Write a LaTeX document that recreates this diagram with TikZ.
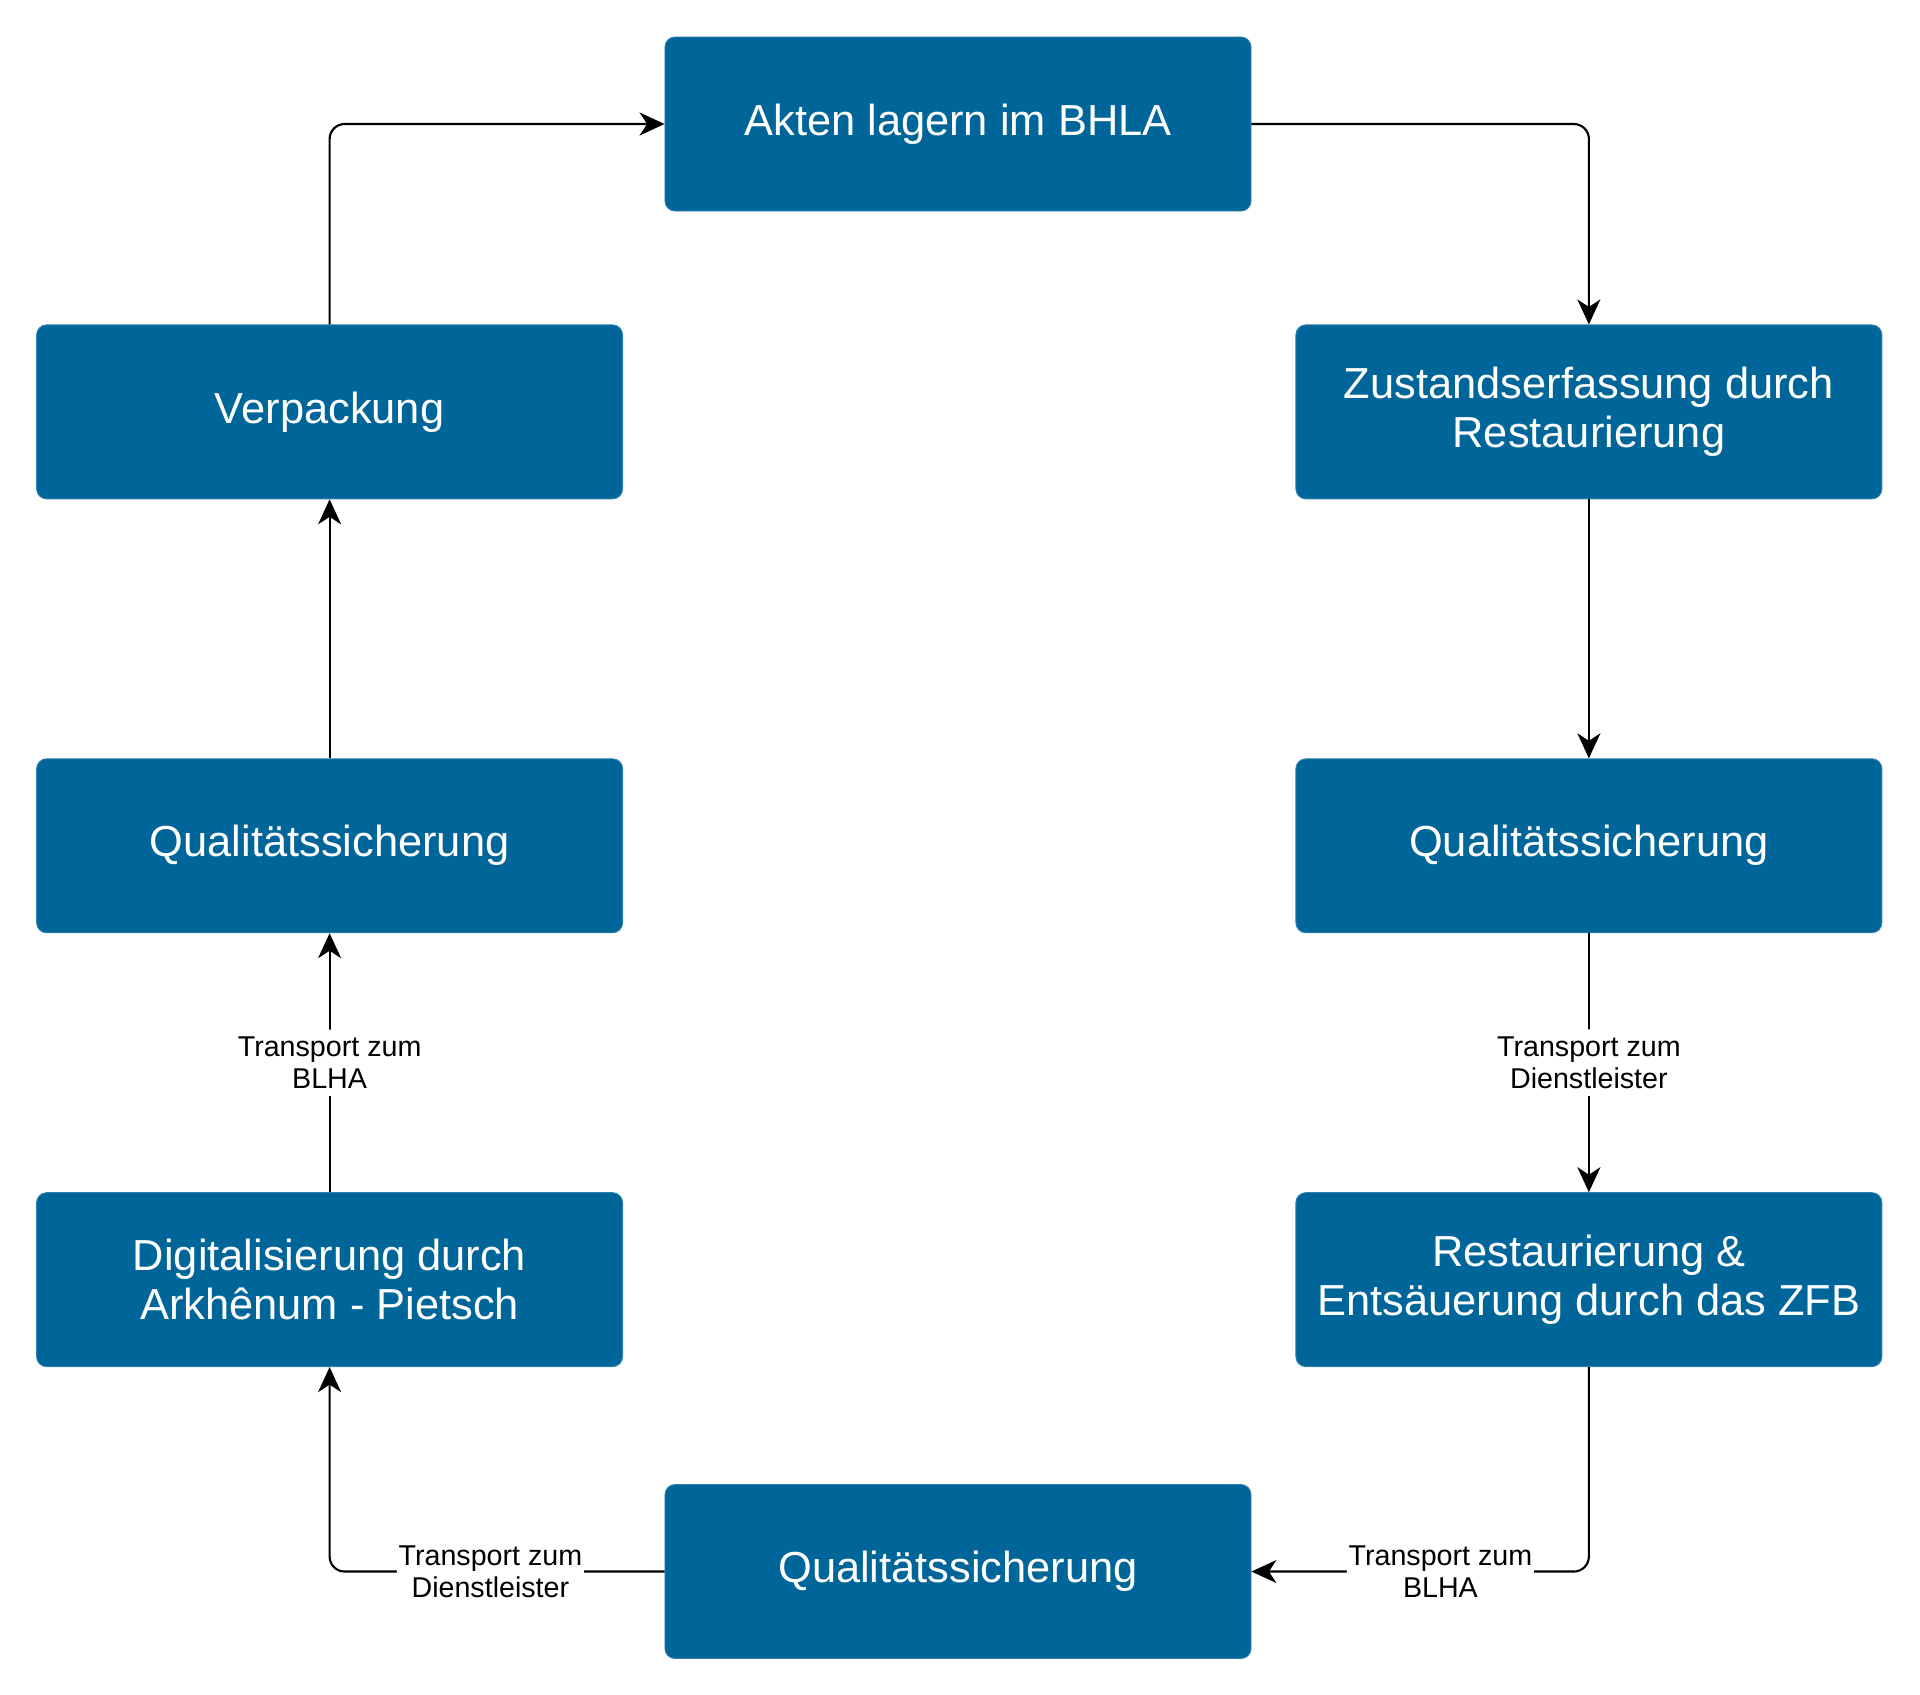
\documentclass[tikz,border=0pt]{standalone}
\usepackage{fontspec}
\setmainfont{Liberation Sans}
\usepackage{xcolor}
\usetikzlibrary{positioning, arrows.meta}
\definecolor{cStep}{HTML}{006699}
\definecolor{cStepB}{HTML}{2F82B0}
\tikzset{
  stepbox/.style   ={draw=cStepB, fill=cStep, rounded corners=0.2cm, minimum width=11.72cm,
                     minimum height=3.48cm, align=center, text=white, inner sep=0pt,
                     font=\fontsize{24.7}{28}\selectfont, line width=0.5pt},
  flow/.style      ={-{Stealth[length=0.5cm, width=0.46cm, inset=0.15cm]}, line width=1.2pt,
                     draw=black, rounded corners=0.3cm},
  translabel/.style={fill=white, font=\fontsize{16.3}{18.5}\selectfont, align=center,
                     inner xsep=1pt, inner ysep=4pt}
}

\begin{document}
\begin{tikzpicture}

  % ====================== Archive (top) ======================
  \node[stepbox] (akten) at (0,0) {Akten lagern im BHLA};

  % ====================== Right column ======================
  \node[stepbox, below right=2.26cm and 0.88cm of akten.south east, anchor=north west] (zustand)
        {Zustandserfassung durch\\Restaurierung};
  \node[stepbox, below=5.18cm of zustand] (qsright) {Qualitätssicherung};
  \node[stepbox, below=5.18cm of qsright] (restaur)
        {Restaurierung \&\\Entsäuerung durch das ZFB};

  % ====================== Left column ======================
  \node[stepbox, below left=2.26cm and 0.83cm of akten.south west, anchor=north east] (verp)
        {Verpackung};
  \node[stepbox, below=5.18cm of verp] (qsleft) {Qualitätssicherung};
  \node[stepbox, below=5.18cm of qsleft] (digital)
        {Digitalisierung durch\\Arkhênum - Pietsch};

  % ====================== Bottom ======================
  \node[stepbox, below right=2.34cm and 0.83cm of digital.south east, anchor=north west] (qsbottom)
        {Qualitätssicherung};

  % ====================== Connectors ======================
  \draw[flow] (akten.east) -| (zustand.north);
  \draw[flow] (zustand) -- (qsright);
  \draw[flow] (qsright) -- (restaur)
        node[midway, translabel] {Transport zum\\Dienstleister};
  \draw[flow] (restaur.south) |- (qsbottom.east)
        node[pos=0.72, translabel] {Transport zum\\BLHA};
  \draw[flow] (qsbottom.west) -| (digital.south)
        node[pos=0.26, translabel] {Transport zum\\Dienstleister};
  \draw[flow] (digital) -- (qsleft)
        node[midway, translabel] {Transport zum\\BLHA};
  \draw[flow] (qsleft) -- (verp);
  \draw[flow] (verp.north) |- (akten.west);

  \pgfresetboundingbox
  \path[use as bounding box] (-19.16,2.48) rectangle (19.24,-31.4);

\end{tikzpicture}
\end{document}
